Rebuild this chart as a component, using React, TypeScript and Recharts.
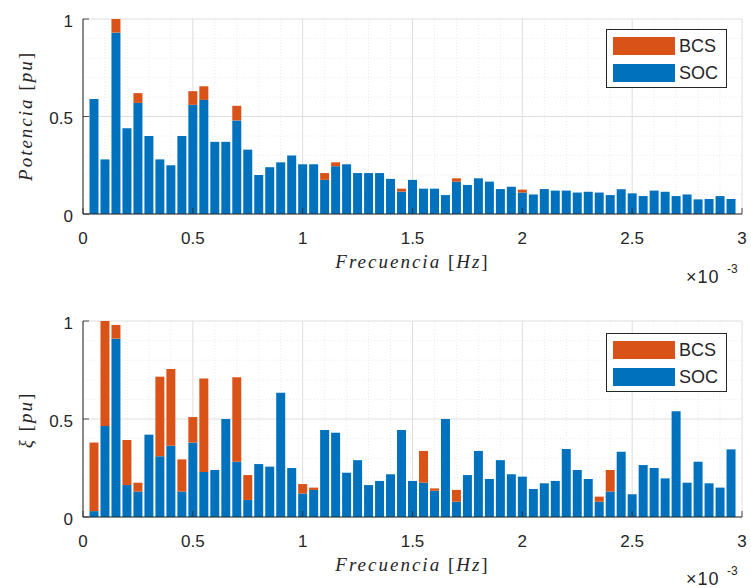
import React from 'react';
import { BarChart, Bar, XAxis, YAxis, CartesianGrid, Legend } from 'recharts';

const BLUE = '#0072BD';
const ORANGE = '#D95319';
const AXIS = '#262626';
const SANS = '"Liberation Sans", Arial, Helvetica, sans-serif';
const SERIF = '"Liberation Serif", "Times New Roman", serif';

// frequency in units of 1e-3 Hz
const frequencies = [
  0.05, 0.1, 0.15, 0.2, 0.25, 0.3, 0.35, 0.4, 0.45, 0.5,
  0.55, 0.6, 0.65, 0.7, 0.75, 0.8, 0.85, 0.9, 0.95, 1.0,
  1.05, 1.1, 1.15, 1.2, 1.25, 1.3, 1.35, 1.4, 1.45, 1.5,
  1.55, 1.6, 1.65, 1.7, 1.75, 1.8, 1.85, 1.9, 1.95, 2.0,
  2.05, 2.1, 2.15, 2.2, 2.25, 2.3, 2.35, 2.4, 2.45, 2.5,
  2.55, 2.6, 2.65, 2.7, 2.75, 2.8, 2.85, 2.9, 2.95,
];

const potenciaSOC = [
  0.59, 0.28, 0.93, 0.44, 0.57, 0.4, 0.28, 0.25, 0.4, 0.56,
  0.585, 0.37, 0.37, 0.48, 0.33, 0.2, 0.24, 0.265, 0.3, 0.255,
  0.255, 0.175, 0.245, 0.255, 0.21, 0.21, 0.21, 0.18, 0.115, 0.175,
  0.13, 0.13, 0.097, 0.166, 0.149, 0.183, 0.166, 0.128, 0.14, 0.11,
  0.1, 0.128, 0.12, 0.12, 0.11, 0.114, 0.11, 0.097, 0.127, 0.106,
  0.092, 0.12, 0.114, 0.092, 0.1, 0.075, 0.077, 0.092, 0.077,
];

const potenciaBCS = [
  0.59, 0.28, 1.0, 0.44, 0.62, 0.4, 0.28, 0.25, 0.4, 0.63,
  0.655, 0.37, 0.37, 0.555, 0.33, 0.2, 0.24, 0.265, 0.3, 0.255,
  0.255, 0.21, 0.265, 0.255, 0.21, 0.21, 0.21, 0.18, 0.13, 0.175,
  0.13, 0.13, 0.097, 0.183, 0.149, 0.183, 0.166, 0.128, 0.14, 0.125,
  0.1, 0.128, 0.12, 0.12, 0.11, 0.114, 0.11, 0.097, 0.127, 0.106,
  0.092, 0.12, 0.114, 0.092, 0.1, 0.075, 0.077, 0.092, 0.077,
];

const xiSOC = [
  0.03, 0.464, 0.91, 0.163, 0.13, 0.42, 0.31, 0.364, 0.13, 0.38,
  0.23, 0.24, 0.5, 0.282, 0.087, 0.27, 0.257, 0.634, 0.25, 0.12,
  0.138, 0.444, 0.43, 0.226, 0.29, 0.163, 0.184, 0.218, 0.444, 0.184,
  0.175, 0.134, 0.5, 0.078, 0.214, 0.337, 0.194, 0.29, 0.218, 0.206,
  0.143, 0.172, 0.184, 0.347, 0.24, 0.194, 0.078, 0.13, 0.333, 0.116,
  0.265, 0.25, 0.197, 0.54, 0.175, 0.282, 0.172, 0.15, 0.345,
];

const xiBCS = [
  0.38, 1.0, 0.98, 0.393, 0.175, 0.42, 0.716, 0.755, 0.294, 0.51,
  0.707, 0.24, 0.5, 0.713, 0.214, 0.27, 0.257, 0.634, 0.25, 0.168,
  0.15, 0.444, 0.43, 0.226, 0.29, 0.163, 0.184, 0.218, 0.444, 0.184,
  0.337, 0.146, 0.5, 0.138, 0.214, 0.337, 0.194, 0.29, 0.218, 0.206,
  0.143, 0.172, 0.184, 0.347, 0.24, 0.194, 0.104, 0.24, 0.333, 0.116,
  0.265, 0.25, 0.197, 0.54, 0.175, 0.282, 0.172, 0.15, 0.345,
];

const legendNames = ['BCS', 'SOC'];
const legendColors = [ORANGE, BLUE];
const xDomain: [number, number] = [0, 3];
const yDomain: [number, number] = [0, 1];
const xTicks = [0, 0.5, 1, 1.5, 2, 2.5, 3];
const yTicks = [0, 0.5, 1];
const xMinor = [
  0.1, 0.2, 0.3, 0.4, 0.6, 0.7, 0.8, 0.9, 1.1, 1.2, 1.3, 1.4, 1.6, 1.7, 1.8, 1.9,
  2.1, 2.2, 2.3, 2.4, 2.6, 2.7, 2.8, 2.9,
];
const yMinor = [0.1, 0.2, 0.3, 0.4, 0.6, 0.7, 0.8, 0.9];

const buildRows = (soc: number[], bcs: number[]) =>
  frequencies.map((f, i) => ({ f, soc: soc[i], bcs: Math.max(0, bcs[i] - soc[i]) }));

const potenciaRows = buildRows(potenciaSOC, potenciaBCS);
const xiRows = buildRows(xiSOC, xiBCS);

const TICK_LEN = 6;

const BottomTick = (props: any) => {
  const { x, y, payload } = props;
  return (
    <g>
      <line x1={x} y1={y} x2={x} y2={y - TICK_LEN} stroke={AXIS} strokeWidth={0.8} />
      <text x={x} y={y + 24} textAnchor="middle" dominantBaseline="central"
        fontFamily={SANS} fontSize={17} fill={AXIS}>
        {String(payload.value)}
      </text>
    </g>
  );
};

const TopTick = (props: any) => {
  const { x, y } = props;
  return <line x1={x} y1={y} x2={x} y2={y + TICK_LEN} stroke={AXIS} strokeWidth={0.8} />;
};

const LeftTick = (props: any) => {
  const { x, y, payload } = props;
  return (
    <g>
      <line x1={x} y1={y} x2={x + TICK_LEN} y2={y} stroke={AXIS} strokeWidth={0.8} />
      <text x={x - 10} y={y + 2} textAnchor="end" dominantBaseline="central"
        fontFamily={SANS} fontSize={17} fill={AXIS}>
        {String(payload.value)}
      </text>
    </g>
  );
};

const RightTick = (props: any) => {
  const { x, y } = props;
  return <line x1={x} y1={y} x2={x - TICK_LEN} y2={y} stroke={AXIS} strokeWidth={0.8} />;
};

const LegendBox = () => (
  <div style={{
    width: 119, height: 57, border: `1px solid ${AXIS}`, background: '#fff',
    boxSizing: 'content-box', position: 'relative',
  }}>
    {legendNames.map((name, i) => (
      <div key={name} style={{
        position: 'absolute', left: 6, top: 7 + i * 27, height: 18,
        display: 'flex', alignItems: 'center',
      }}>
        <div style={{ width: 62, height: 18, background: legendColors[i] }} />
        <span style={{
          marginLeft: 4, fontFamily: SANS, fontSize: 18, color: AXIS, lineHeight: '18px',
        }}>{name}</span>
      </div>
    ))}
  </div>
);

const minorV = ({ offset }: any) =>
  xMinor.map((v) => offset.left + ((v - xDomain[0]) / (xDomain[1] - xDomain[0])) * offset.width);
const minorH = ({ offset }: any) =>
  yMinor.map((v) => offset.top + (1 - (v - yDomain[0]) / (yDomain[1] - yDomain[0])) * offset.height);

interface PanelProps {
  rows: { f: number; soc: number; bcs: number }[];
  height: number;
  top: number;
  bottomSpace: number;
  legendTop: number;
}

const Panel = ({ rows, height, top, bottomSpace, legendTop }: PanelProps) => (
  <BarChart
    width={751}
    height={height}
    data={rows}
    margin={{ top, right: 9, bottom: 0, left: 0 }}
    barCategoryGap={0}
  >
    <CartesianGrid stroke="#ececec" strokeDasharray="1 2"
      verticalCoordinatesGenerator={minorV} horizontalCoordinatesGenerator={minorH} />
    <CartesianGrid stroke="#dedede" />
    <XAxis dataKey="f" type="number" domain={xDomain} ticks={xTicks} interval={0}
      allowDataOverflow height={bottomSpace} tickSize={0} tickMargin={0}
      axisLine={{ stroke: AXIS }} tick={<BottomTick />} />
    <XAxis xAxisId="top" dataKey="f" type="number" orientation="top" domain={xDomain}
      ticks={xTicks} interval={0} allowDataOverflow height={0} tickSize={0} tickMargin={0}
      axisLine={{ stroke: AXIS }} tick={<TopTick />} />
    <YAxis type="number" domain={yDomain} ticks={yTicks} interval={0} allowDataOverflow
      width={83} tickSize={0} tickMargin={0} axisLine={{ stroke: AXIS }} tick={<LeftTick />} />
    <YAxis yAxisId="right" orientation="right" type="number" domain={yDomain} ticks={yTicks}
      interval={0} allowDataOverflow width={0} tickSize={0} tickMargin={0}
      axisLine={{ stroke: AXIS }} tick={<RightTick />} />
    <Bar dataKey="soc" name="SOC" stackId="s" fill={BLUE} barSize={9} isAnimationActive={false} />
    <Bar dataKey="bcs" name="BCS" stackId="s" fill={ORANGE} barSize={9} isAnimationActive={false} />
    <Legend layout="vertical" align="center" verticalAlign="middle"
      wrapperStyle={{ top: legendTop, left: 606, width: 121, height: 59 }}
      content={() => <LegendBox />} />
  </BarChart>
);

const XLabel = ({ top }: { top: number }) => (
  <div style={{
    position: 'absolute', left: 0, width: 825, top, textAlign: 'center',
    fontFamily: SERIF, fontSize: 19, color: AXIS, letterSpacing: 2, whiteSpace: 'nowrap',
    lineHeight: '20px',
  }}>
    <i>Frecuencia</i> [<i>Hz</i>]
  </div>
);

const Exponent = ({ top }: { top: number }) => (
  <div style={{ position: 'absolute', left: 686, top, width: 62, height: 26 }}>
    <span style={{
      position: 'absolute', left: 0, top: 8, fontFamily: SANS, fontSize: 18, color: AXIS,
      lineHeight: '18px', letterSpacing: 1, whiteSpace: 'nowrap',
    }}>×10</span>
    <span style={{
      position: 'absolute', left: 41, top: 3, fontFamily: SANS, fontSize: 12, color: AXIS,
      lineHeight: '12px', whiteSpace: 'nowrap',
    }}>-3</span>
  </div>
);

const YLabel = ({ centerY, children }: { centerY: number; children: React.ReactNode }) => (
  <div style={{
    position: 'absolute', left: 26, top: centerY, transform: 'translate(-50%, -50%) rotate(-90deg)',
    fontFamily: SERIF, fontSize: 19, color: AXIS, letterSpacing: 2, whiteSpace: 'nowrap',
    lineHeight: '20px',
  }}>
    {children}
  </div>
);

export default function App() {
  return (
    <div style={{
      position: 'absolute', left: 0, top: 0, width: 751, height: 588,
      background: '#fff', overflow: 'hidden',
    }}>
      <div style={{ position: 'absolute', left: 0, top: 0 }}>
        <Panel rows={potenciaRows} height={290} top={19} bottomSpace={76} legendTop={29} />
      </div>
      <div style={{ position: 'absolute', left: 0, top: 290 }}>
        <Panel rows={xiRows} height={298} top={31} bottomSpace={71} legendTop={43} />
      </div>
      <XLabel top={252} />
      <XLabel top={555} />
      <Exponent top={260} />
      <Exponent top={562} />
      <YLabel centerY={116}><i>Potencia</i> [<i>pu</i>]</YLabel>
      <YLabel centerY={420}><i>ξ</i> [<i>pu</i>]</YLabel>
    </div>
  );
}
